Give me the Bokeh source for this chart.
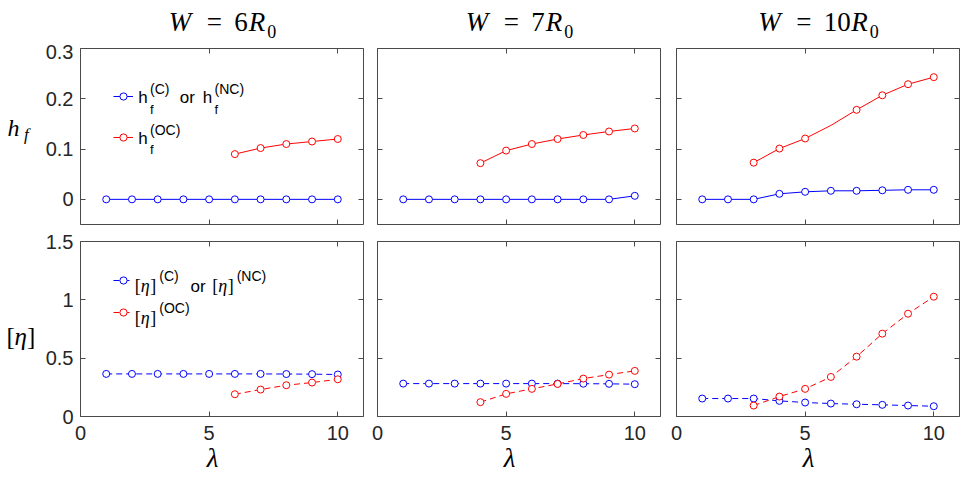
from bokeh.core.properties import value
from bokeh.embed import file_html
from bokeh.layouts import column, row
from bokeh.models import FixedTicker, Label, Legend, LegendItem, LinearAxis, Range1d
from bokeh.plotting import figure
from bokeh.resources import INLINE

# ---------------------------------------------------------------- data
lam = [1, 2, 3, 4, 5, 6, 7, 8, 9, 10]

# channel width W in units of R0, one column per width
channel_widths = ["6", "7", "10"]

# h_f : C / NC branch over every lambda, OC branch over its own lambda range
hf_c_w6 = [0.0, 0.0, 0.0, 0.0, 0.0, 0.0, 0.0, 0.0, 0.0, 0.0]
hf_c_w7 = [0.0, 0.0, 0.0, 0.0, 0.0, 0.0, 0.0, 0.0, 0.0, 0.007]
hf_c_w10 = [0.0, 0.0, 0.0, 0.011, 0.015, 0.017, 0.017, 0.018, 0.019, 0.019]

lam_oc_w6 = [6, 7, 8, 9, 10]
lam_oc_w7 = [4, 5, 6, 7, 8, 9, 10]
lam_oc_w10 = [3, 4, 5, 6, 7, 8, 9, 10]

hf_oc_w6 = [0.090, 0.102, 0.110, 0.115, 0.120]
hf_oc_w7 = [0.072, 0.097, 0.110, 0.120, 0.128, 0.135, 0.141]
hf_oc_w10 = [0.073, 0.101, 0.121, 0.147, 0.178, 0.207, 0.229, 0.243]
# lambda values of an OC h_f curve that carry no marker
hf_oc_unmarked = {"10": [6]}

# intrinsic viscosity [eta]
eta_c_w6 = [0.365, 0.365, 0.365, 0.365, 0.365, 0.365, 0.365, 0.364, 0.363, 0.360]
eta_c_w7 = [0.282, 0.282, 0.282, 0.282, 0.282, 0.282, 0.282, 0.281, 0.280, 0.277]
eta_c_w10 = [0.154, 0.154, 0.154, 0.134, 0.120, 0.111, 0.105, 0.100, 0.094, 0.088]

eta_oc_w6 = [0.191, 0.231, 0.268, 0.291, 0.319]
eta_oc_w7 = [0.123, 0.194, 0.237, 0.279, 0.325, 0.359, 0.391]
eta_oc_w10 = [0.094, 0.171, 0.237, 0.339, 0.513, 0.710, 0.881, 1.027]

x_ticks = [0, 5, 10]
x_tick_labels = ["0", "5", "10"]
hf_ticks = [0, 0.1, 0.2, 0.3]
hf_tick_labels = ["0", "0.1", "0.2", "0.3"]
eta_ticks = [0, 0.5, 1, 1.5]
eta_tick_labels = ["0", "0.5", "1", "1.5"]

hf_c = [hf_c_w6, hf_c_w7, hf_c_w10]
hf_oc = [hf_oc_w6, hf_oc_w7, hf_oc_w10]
eta_c = [eta_c_w6, eta_c_w7, eta_c_w10]
eta_oc = [eta_oc_w6, eta_oc_w7, eta_oc_w10]
lam_oc = [lam_oc_w6, lam_oc_w7, lam_oc_w10]

# ---------------------------------------------------------------- style
BLUE = "#0000ff"
RED = "#ff0000"
AX = "#4a4a4a"
TICK_TXT = "#262626"
SANS = "Liberation Sans"
SERIF = "Liberation Serif"
DASH = "6 4"
BASELINE_LIFT = 0.26   # alphabetic-baseline correction, fraction of font size

X_RANGE = (0, 11)
Y_RANGES = [(-0.05, 0.3), (0.0, 1.5)]

PAGE_W, PAGE_H = 976, 478
TOP_STRIP = 44      # panel titles
LEFT_STRIP = 40     # y-axis labels

FRAME_W = 283
COL_LEFT = [40, 7, 8]
COL_RIGHT = [7, 8, 17]
ROW_TOP = [4, 9]
ROW_BOTTOM = [8, 62]
FRAME_H = [176, 175]


def col_width(c):
    return COL_LEFT[c] + FRAME_W + COL_RIGHT[c]


def row_height(r):
    return ROW_TOP[r] + FRAME_H[r] + ROW_BOTTOM[r]


def frame_origin(r, c):
    fx = LEFT_STRIP + sum(col_width(i) for i in range(c)) + COL_LEFT[c]
    fy = TOP_STRIP + sum(row_height(i) for i in range(r)) + ROW_TOP[r]
    return fx, fy


def to_data(r, c, X, Y):
    """Page pixel position -> data space of panel (r, c)."""
    fx, fy = frame_origin(r, c)
    y0, y1 = Y_RANGES[r]
    x = X_RANGE[0] + (X - fx) / FRAME_W * (X_RANGE[1] - X_RANGE[0])
    y = y1 - (Y - fy) / FRAME_H[r] * (y1 - y0)
    return x, y


def label(x, y, text, size, font=SANS, style="normal", align="left"):
    return Label(x=x, y=y, text=text, text_font=font, text_font_size=f"{size}px",
                 text_font_style=style, text_align=align,
                 text_baseline="alphabetic", text_color="black")


def put(p, r, c, X, Y, text, size, font=SANS, style="normal", align="left"):
    x, y = to_data(r, c, X, Y - BASELINE_LIFT * size)
    p.add_layout(label(x, y, text, size, font, style, align))


def put_px(s, X, Y, text, size, font=SERIF, style="normal", align="left"):
    s.add_layout(label(X, Y - BASELINE_LIFT * size, text, size, font, style, align))


def text_strip(width, height):
    """A bare canvas whose data units are pixels, y growing downwards."""
    s = figure(width=width, height=height, x_range=Range1d(0, width),
               y_range=Range1d(height, 0), x_axis_type=None, y_axis_type=None,
               title=None, toolbar_location=None, output_backend="svg",
               min_border=0, outline_line_color=None)
    s.background_fill_color = "white"
    s.border_fill_color = "white"
    return s


def style_axis(ax, ticks, labels, show):
    ax.ticker = FixedTicker(ticks=ticks)
    ax.axis_line_color = None
    ax.major_tick_in = 5
    ax.major_tick_out = 0
    ax.minor_tick_in = 0
    ax.minor_tick_out = 0
    ax.major_tick_line_color = AX
    ax.major_tick_line_width = 1
    if show:
        ax.major_label_overrides = {t: s for t, s in zip(ticks, labels)}
        ax.major_label_text_font = SANS
        ax.major_label_text_font_size = "20px"
        ax.major_label_text_color = TICK_TXT
    else:
        ax.major_label_text_font_size = "1px"
        ax.major_label_text_color = None
        ax.major_label_standoff = 0


def make_panel(r, c):
    p = figure(width=col_width(c), height=row_height(r),
               x_range=Range1d(*X_RANGE), y_range=Range1d(*Y_RANGES[r]),
               title=None, toolbar_location=None, output_backend="svg",
               min_border_left=COL_LEFT[c], min_border_right=COL_RIGHT[c],
               min_border_top=ROW_TOP[r], min_border_bottom=ROW_BOTTOM[r])
    p.add_layout(LinearAxis(), "right")
    p.add_layout(LinearAxis(), "above")
    p.xgrid.visible = False
    p.ygrid.visible = False
    p.outline_line_color = AX
    p.outline_line_width = 1
    p.outline_line_alpha = 1
    p.background_fill_color = "white"
    p.border_fill_color = "white"

    yt, yl = (hf_ticks, hf_tick_labels) if r == 0 else (eta_ticks, eta_tick_labels)
    for ax in p.below:
        style_axis(ax, x_ticks, x_tick_labels, r == 1)
        if r == 1:
            ax.major_label_standoff = 9
            # λ, nudged a little left of the frame centre by a trailing en/thin space
            ax.axis_label = "λ\u2002\u2009"
            ax.axis_label_text_font = SERIF
            ax.axis_label_text_font_style = "italic"
            ax.axis_label_text_font_size = "27px"
            ax.axis_label_text_color = "black"
            ax.axis_label_standoff = 0
    for ax in p.above:
        style_axis(ax, x_ticks, x_tick_labels, False)
    for ax in p.left:
        style_axis(ax, yt, yl, c == 0)
        if c == 0:
            ax.major_label_standoff = 7
    for ax in p.right:
        style_axis(ax, yt, yl, False)

    dash = "solid" if r == 0 else DASH
    c_vals = hf_c[c] if r == 0 else eta_c[c]
    oc_vals = hf_oc[c] if r == 0 else eta_oc[c]
    oc_lam = lam_oc[c]

    ln_c = p.line(lam, c_vals, line_color=BLUE, line_width=1, line_dash=dash)
    mk_c = p.scatter(lam, c_vals, marker="circle", size=7, line_color=BLUE,
                     fill_color="white", line_width=1)
    ln_oc = p.line(oc_lam, oc_vals, line_color=RED, line_width=1, line_dash=dash)
    skip = hf_oc_unmarked.get(channel_widths[c], []) if r == 0 else []
    mx = [l for l in oc_lam if l not in skip]
    my = [v for l, v in zip(oc_lam, oc_vals) if l not in skip]
    mk_oc = p.scatter(mx, my, marker="circle", size=7, line_color=RED,
                      fill_color="white", line_width=1)

    if c == 0:
        items = [LegendItem(label=value(" "), renderers=[ln_c, mk_c]),
                 LegendItem(label=value(" "), renderers=[ln_oc, mk_oc])]
        if r == 0:
            leg = Legend(items=items, location=(33, 78), spacing=23)
        else:
            leg = Legend(items=items, location=(33, 95), spacing=14)
        leg.glyph_width = 20
        leg.glyph_height = 18
        leg.label_height = 18
        leg.label_width = 0
        leg.label_standoff = 0
        leg.label_text_font_size = "1px"
        leg.label_text_color = None
        leg.padding = 0
        leg.margin = 0
        leg.border_line_color = None
        leg.background_fill_alpha = 0
        leg.orientation = "vertical"
        p.add_layout(leg)

        if r == 0:
            for base, sup in [(101.5, "(C)"), (142.2, "(OC)")]:
                put(p, r, c, 137.7, base, "h", 17)
                put(p, r, c, 149.5, base + 10.5, "f", 13)
                put(p, r, c, 149.5, base - 9.5, sup, 14)
            put(p, r, c, 179.3, 101.5, "or", 17)
            put(p, r, c, 202.3, 101.5, "h", 17)
            put(p, r, c, 214.1, 112.0, "f", 13)
            put(p, r, c, 214.1, 92.0, "(NC)", 14)
        else:
            for base, sup, xs in [(290.5, "(C)", 134.3), (321.7, "(OC)", 134.3),
                                  (290.5, "(NC)", 211.7)]:
                put(p, r, c, xs, base, "[", 18, SERIF)
                put(p, r, c, xs + 6, base, "η", 18, SERIF, "italic")
                put(p, r, c, xs + 15.5, base, "]", 18, SERIF)
                put(p, r, c, xs + 24.5, base - 11, sup, 14)
            put(p, r, c, 190, 290.5, "or", 17)
    return p


# ---------------------------------------------------------------- titles  W = nR0
top = text_strip(PAGE_W, TOP_STRIP)
for c, digits in enumerate(channel_widths):
    fx, _ = frame_origin(0, c)
    off_eq = 49.5
    off_num = 69.4
    off_r = off_num + 13 * len(digits) + 1.5
    off_sub = off_r + 18.5
    total = off_sub + 10
    x0 = fx + FRAME_W / 2 - 1 - total / 2
    put_px(top, x0 + 4, 28.5, "W", 27, SERIF, "italic")
    put_px(top, x0 + off_eq, 28.5, "=", 27, SERIF, "normal", "center")
    put_px(top, x0 + off_num, 28.5, digits, 27, SERIF)
    put_px(top, x0 + off_r, 28.5, "R", 27, SERIF, "italic")
    put_px(top, x0 + off_sub, 35.5, "0", 18, SERIF)

# ---------------------------------------------------------------- y labels
side_h = row_height(0) + row_height(1)
side = text_strip(LEFT_STRIP, side_h)
put_px(side, 7, 133.3 - TOP_STRIP, "h", 24, SERIF, "italic")
put_px(side, 23.5, 138.5 - TOP_STRIP, "f", 17, SERIF, "italic")
put_px(side, 6, 342 - TOP_STRIP, "[", 25, SERIF)
put_px(side, 14, 342 - TOP_STRIP, "η", 25, SERIF, "italic")
put_px(side, 26.5, 342 - TOP_STRIP, "]", 25, SERIF)

panels = column(*[row(*[make_panel(r, c) for c in range(3)]) for r in range(2)])
layout = column(top, row(side, panels))

open("out.html", "w").write(file_html(layout, INLINE))
